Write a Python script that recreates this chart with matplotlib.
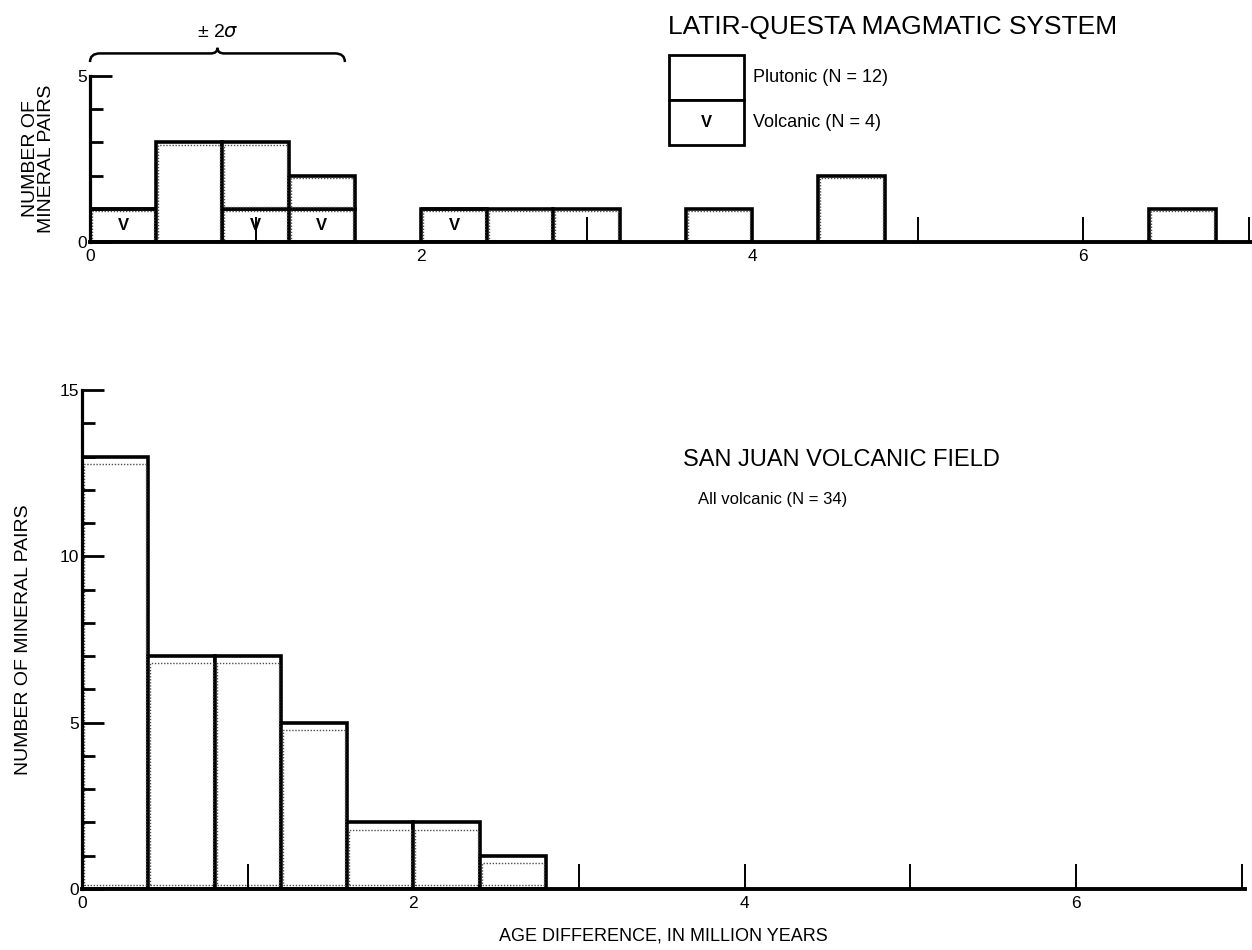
import numpy as np
import matplotlib
matplotlib.use("Agg")
import matplotlib.pyplot as plt
from matplotlib.path import Path
from matplotlib.patches import PathPatch, Rectangle

plt.rcParams['font.family'] = ['Liberation Sans', 'DejaVu Sans']

# bins are 0.4 m.y. wide
bin_width = 0.4

# Latir-Questa (top)
lq_left = [0.0, 0.4, 0.8, 1.2, 2.0, 2.4, 2.8, 3.6, 4.4, 6.4]
lq_volcanic = [1, 0, 1, 1, 1, 0, 0, 0, 0, 0]
lq_plutonic = [0, 3, 2, 1, 0, 1, 1, 1, 2, 1]

# San Juan (bottom)
sj_left = [0.0, 0.4, 0.8, 1.2, 1.6, 2.0, 2.4]
sj_counts = [13, 7, 7, 5, 2, 2, 1]

x_ticks = list(range(8))
x_ticklabels = ['0', '', '2', '', '4', '', '6', '']

W, H = 1252, 950
fig = plt.figure(figsize=(W / 100, H / 100), dpi=100)

def frac(x0, y0, x1, y1):
    # pixel box -> figure fraction [left, bottom, width, height]
    return [x0 / W, 1 - y1 / H, (x1 - x0) / W, (y1 - y0) / H]

ax1 = fig.add_axes(frac(90, 76, 1252, 242))
ax2 = fig.add_axes(frac(82, 390, 1245, 889))

bar_kw = dict(width=bin_width, align='edge', color='white', edgecolor='black',
              linewidth=2.6, joinstyle='miter')

def dotted_inner(ax, left, heights, bottom=None, dx=0.012, dy=0.06):
    # the scanned original shows a dotted line just inside each box
    if bottom is None:
        bottom = [0] * len(heights)
    for xl, h, b in zip(left, heights, bottom):
        if h <= 0:
            continue
        ax.add_patch(Rectangle((xl + dx, b + dy * 0.5), bin_width - 2 * dx, h - dy * 1.5,
                               fill=False, lw=1.0, ls=(0, (1, 1.2)), edgecolor='0.3'))

# top panel: volcanic at the base, plutonic stacked on top
ax1.bar(lq_left, lq_volcanic, **bar_kw)
ax1.bar(lq_left, lq_plutonic, bottom=lq_volcanic, **bar_kw)
dotted_inner(ax1, lq_left, lq_volcanic, dy=0.08)
dotted_inner(ax1, lq_left, lq_plutonic, bottom=lq_volcanic, dy=0.08)
for xl, v in zip(lq_left, lq_volcanic):
    if v > 0:
        ax1.text(xl + bin_width / 2, v / 2, 'V', ha='center', va='center',
                 fontsize=12, fontweight='bold')

ax2.bar(sj_left, sj_counts, **bar_kw)
dotted_inner(ax2, sj_left, sj_counts, dy=0.22)

for ax in (ax1, ax2):
    ax.spines['top'].set_visible(False)
    ax.spines['right'].set_visible(False)
    ax.spines['left'].set_linewidth(2.3)
    ax.spines['bottom'].set_linewidth(2.8)
    ax.set_xlim(0, 7.02)
    ax.set_xticks(x_ticks)
    ax.set_xticklabels(x_ticklabels)
    ax.tick_params(axis='x', direction='in', length=18, width=1.4, labelsize=12.5, pad=5)
    ax.tick_params(axis='y', which='major', direction='in', length=16, width=2, labelsize=12.5, pad=2)
    ax.tick_params(axis='y', which='minor', direction='in', length=9, width=2)
    ax.patch.set_visible(False)

ax1.set_ylim(0, 5)
ax1.set_yticks([0, 5])
ax1.set_yticks([1, 2, 3, 4], minor=True)
ax1.set_ylabel('NUMBER OF\nMINERAL PAIRS', fontsize=14, labelpad=16, linespacing=0.95)

ax2.set_ylim(0, 15)
ax2.set_yticks([0, 5, 10, 15])
ax2.set_yticks([i for i in range(16) if i % 5], minor=True)
ax2.set_ylabel('NUMBER OF MINERAL PAIRS', fontsize=14, labelpad=20)

# +/- 2 sigma bracket above the top panel
x0, x1, xm = 0.0, 1.54, 0.77
yb, yl, yt = 5.42, 5.68, 5.85
verts = [(x0, yb), (x0, yl), (x0 + 0.06, yl), (xm - 0.04, yl),
         (xm, yl), (xm, yt), (xm, yl), (xm + 0.04, yl),
         (x1 - 0.06, yl), (x1, yl), (x1, yb)]
codes = [Path.MOVETO, Path.CURVE3, Path.CURVE3, Path.LINETO,
         Path.CURVE3, Path.CURVE3, Path.CURVE3, Path.CURVE3,
         Path.LINETO, Path.CURVE3, Path.CURVE3]
ax1.add_patch(PathPatch(Path(verts, codes), fill=False, lw=1.8, clip_on=False))
ax1.text(xm, 6.3, '± 2$\\sigma$', ha='center', va='center', fontsize=14, clip_on=False)

# titles
fig.text(668 / W, 1 - 27 / H, 'LATIR-QUESTA MAGMATIC SYSTEM', fontsize=19,
         ha='left', va='center')
ax2.text(3.63, 12.9, 'SAN JUAN VOLCANIC FIELD', fontsize=17, ha='left', va='center')
ax2.text(3.72, 11.7, 'All volcanic (N = 34)', fontsize=12, ha='left', va='center')

# legend boxes
lx0, lx1 = 669 / W, 744 / W
ly_top, ly_mid, ly_bot = 1 - 55 / H, 1 - 100 / H, 1 - 145 / H
for yb_, yt_ in ((ly_mid, ly_top), (ly_bot, ly_mid)):
    fig.add_artist(Rectangle((lx0, yb_), lx1 - lx0, yt_ - yb_, transform=fig.transFigure,
                             facecolor='white', edgecolor='black', lw=2))
fig.text((lx0 + lx1) / 2, (ly_mid + ly_bot) / 2, 'V', ha='center', va='center',
         fontsize=12, fontweight='bold')
fig.text(753 / W, (ly_top + ly_mid) / 2, 'Plutonic (N = 12)', fontsize=13, va='center')
fig.text(753 / W, (ly_mid + ly_bot) / 2, 'Volcanic (N = 4)', fontsize=13, va='center')

ax2.set_xlabel('AGE DIFFERENCE, IN MILLION YEARS', fontsize=13, labelpad=12)

fig.savefig('out.png', dpi=100)
